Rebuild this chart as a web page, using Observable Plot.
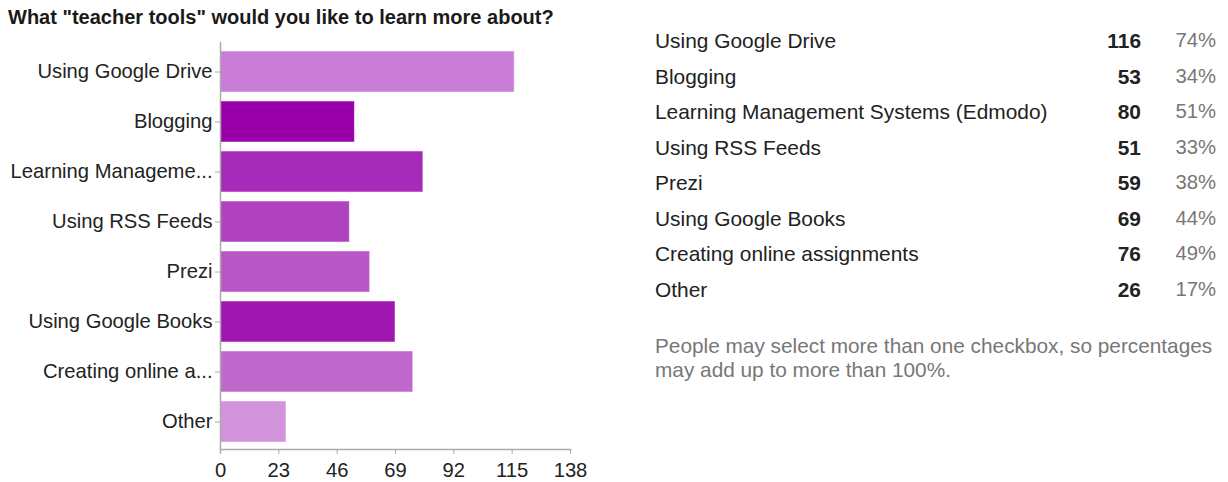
<!DOCTYPE html>
<html>
<head>
<meta charset="utf-8">
<script src="https://cdn.jsdelivr.net/npm/d3@7"></script>
<script src="https://cdn.jsdelivr.net/npm/@observablehq/plot@0.6"></script>
<style>
  html, body { margin: 0; padding: 0; background: #fff; }
  body { width: 1228px; height: 482px; position: relative; overflow: hidden;
         font-family: "Liberation Sans", Arial, sans-serif; }
  #title { position: absolute; left: 8px; top: 6px; font-size: 20px; font-weight: bold;
           line-height: 22px; color: #1a1a1a; white-space: nowrap; }
  #chart { position: absolute; left: 0; top: 30px; }
  #table { position: absolute; left: 655px; top: 23px; width: 565px; }
  .row { position: relative; height: 35.5px; line-height: 35.5px; font-size: 20.9px; color: #222; white-space: nowrap; }
  .row .num { position: absolute; right: 79px; top: 0; font-weight: bold; color: #222; }
  .row .pct { position: absolute; right: 4px; top: 0; color: #777; font-size: 20.3px; }
  #note { position: absolute; left: 655px; top: 334px; font-size: 20.8px; line-height: 24px; color: #777; width: 575px; }
</style>
</head>
<body>
<div id="title"></div>
<div id="chart"></div>
<div id="table"></div>
<div id="note"></div>
<script>
const titleText = 'What "teacher tools" would you like to learn more about?';
const categories = ["Using Google Drive", "Blogging", "Learning Management Systems (Edmodo)", "Using RSS Feeds", "Prezi", "Using Google Books", "Creating online assignments", "Other"];
const counts = [116, 53, 80, 51, 59, 69, 76, 26];
const percents = [74, 34, 51, 33, 38, 44, 49, 17];
const yTickLabels = ["Using Google Drive", "Blogging", "Learning Manageme...", "Using RSS Feeds", "Prezi", "Using Google Books", "Creating online a...", "Other"];
const xTicks = [0, 23, 46, 69, 92, 115, 138];
const noteText = "People may select more than one checkbox, so percentages may add up to more than 100%.";

const palette = ["#c97dd6", "#9900aa", "#a72bb9", "#b041bf", "#b856c6", "#a016b1", "#c069cc", "#d292dc"];

const rows = categories.map((c, i) => ({cat: c, count: counts[i], pct: percents[i]}));

document.getElementById("title").textContent = titleText;

const chart = Plot.plot({
  width: 600,
  height: 452,
  marginLeft: 220,
  marginRight: 30,
  marginTop: 13,
  marginBottom: 33,
  style: {fontSize: "20.2px", fontFamily: "'Liberation Sans', Arial, sans-serif", color: "#222", background: "transparent"},
  x: {domain: [0, 138], axis: null, label: null},
  y: {domain: categories, paddingInner: 0.18, paddingOuter: 0.09, axis: null, label: null},
  color: {domain: categories, range: palette},
  marks: [
    Plot.barX(rows, {x: "count", y: "cat", fill: "cat", stroke: "#ffffff", strokeOpacity: 0.5, strokeWidth: 1}),
    Plot.frame({anchor: "bottom", stroke: "#aaa", strokeWidth: 1.5}),
    Plot.ruleX([0], {stroke: "#aaa", strokeWidth: 1.5, insetTop: -1, insetBottom: -4}),
    Plot.axisY({tickSize: 5, tickPadding: 3, stroke: "#aaa", fill: "#222", label: null,
      tickFormat: d => yTickLabels[categories.indexOf(d)]}),
    Plot.axisX({ticks: xTicks, tickSize: 5, tickPadding: 8, stroke: "#aaa", fill: "#222", label: null, tickFormat: d => String(d)})
  ]
});
document.getElementById("chart").appendChild(chart);

const table = document.getElementById("table");
rows.forEach(r => {
  const div = document.createElement("div");
  div.className = "row";
  const l = document.createElement("span"); l.textContent = r.cat;
  const n = document.createElement("span"); n.className = "num"; n.textContent = r.count;
  const p = document.createElement("span"); p.className = "pct"; p.textContent = r.pct + "%";
  div.append(l, n, p);
  table.appendChild(div);
});
document.getElementById("note").textContent = noteText;
</script>
</body>
</html>
